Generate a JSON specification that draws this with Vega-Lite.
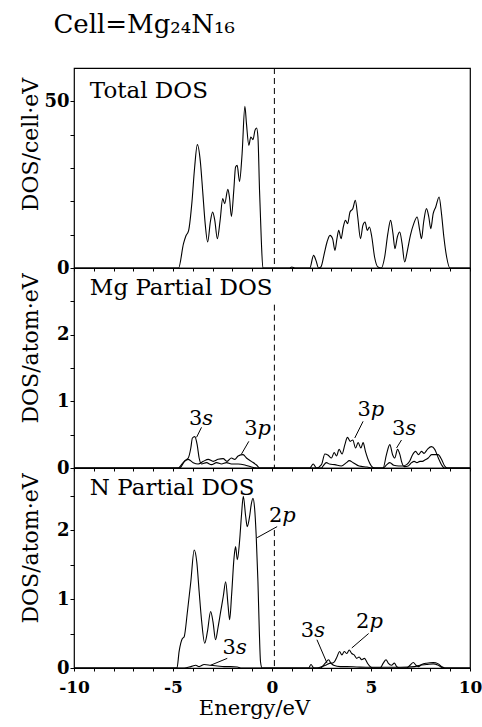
{
  "$schema": "https://vega.github.io/schema/vega-lite/v6.json",
  "background": "white",
  "padding": {"left": 18, "top": 11, "right": 10, "bottom": 2},
  "title": {"text": "Cell=Mg₂₄N₁₆", "anchor": "start", "frame": "bounds", "font": "DejaVu Serif", "fontSize": 26, "fontWeight": "normal", "color": "black", "dx": 35, "offset": 29},
  "spacing": 0,
  "bounds": "flush",
  "config": {
    "view": {"stroke": "black", "strokeWidth": 1.2},
    "axis": {"domain": false, "grid": false, "tickColor": "black", "tickWidth": 1, "labelColor": "black", "titleColor": "black", "labelFont": "DejaVu Serif", "titleFont": "DejaVu Serif", "labelFontWeight": "bold", "labelFontSize": 18, "titleFontSize": 22, "titleFontWeight": "normal", "labelOverlap": false, "labelFlush": false},
    "text": {"font": "DejaVu Serif", "color": "black"}
  },
  "datasets": {
    "total": [
      {"E": -10, "dos": 0}, {"E": -4.72, "dos": 0}, {"E": -4.47, "dos": 7.3}, {"E": -4.35, "dos": 9.6}, {"E": -4.21, "dos": 11.3}, {"E": -4.04, "dos": 20}, {"E": -3.91, "dos": 30}, {"E": -3.77, "dos": 37}, {"E": -3.62, "dos": 32}, {"E": -3.5, "dos": 23}, {"E": -3.37, "dos": 13}, {"E": -3.25, "dos": 7.8}, {"E": -3.11, "dos": 14}, {"E": -3.0, "dos": 16.8}, {"E": -2.89, "dos": 14.3}, {"E": -2.76, "dos": 8.8}, {"E": -2.62, "dos": 14.3}, {"E": -2.49, "dos": 20.8}, {"E": -2.39, "dos": 19.3}, {"E": -2.23, "dos": 23.6}, {"E": -2.15, "dos": 21.3}, {"E": -2.05, "dos": 15.5}, {"E": -1.93, "dos": 23.3}, {"E": -1.84, "dos": 30.3}, {"E": -1.76, "dos": 30.8}, {"E": -1.64, "dos": 26}, {"E": -1.51, "dos": 34.3}, {"E": -1.37, "dos": 48.5}, {"E": -1.29, "dos": 43.3}, {"E": -1.17, "dos": 36.8}, {"E": -1.07, "dos": 39.3}, {"E": -0.96, "dos": 38.5}, {"E": -0.86, "dos": 41.3}, {"E": -0.78, "dos": 42}, {"E": -0.71, "dos": 39.3}, {"E": -0.63, "dos": 23.3}, {"E": -0.54, "dos": 8.3}, {"E": -0.46, "dos": 0},
      {"E": 0.9, "dos": 0}, {"E": 1.0, "dos": 0.3}, {"E": 1.15, "dos": 0}, {"E": 1.91, "dos": 0}, {"E": 2.1, "dos": 3.8}, {"E": 2.22, "dos": 2.3}, {"E": 2.35, "dos": 0}, {"E": 2.47, "dos": 0.3}, {"E": 2.64, "dos": 4.3}, {"E": 2.78, "dos": 7.8}, {"E": 2.93, "dos": 9.8}, {"E": 3.06, "dos": 8.8}, {"E": 3.18, "dos": 5.3}, {"E": 3.28, "dos": 8.8}, {"E": 3.37, "dos": 11.3}, {"E": 3.49, "dos": 8.8}, {"E": 3.6, "dos": 12.3}, {"E": 3.71, "dos": 14.3}, {"E": 3.82, "dos": 13.3}, {"E": 3.94, "dos": 16.8}, {"E": 4.08, "dos": 17.8}, {"E": 4.21, "dos": 20.3}, {"E": 4.33, "dos": 15.3}, {"E": 4.47, "dos": 8.8}, {"E": 4.59, "dos": 12.8}, {"E": 4.7, "dos": 13.8}, {"E": 4.81, "dos": 11.3}, {"E": 4.92, "dos": 12.3}, {"E": 5.04, "dos": 9.3}, {"E": 5.18, "dos": 3.3}, {"E": 5.35, "dos": 0.3}, {"E": 5.52, "dos": 0}, {"E": 5.69, "dos": 3.3}, {"E": 5.85, "dos": 10.3}, {"E": 5.99, "dos": 14.3}, {"E": 6.11, "dos": 10.3}, {"E": 6.21, "dos": 5.8}, {"E": 6.33, "dos": 9.3}, {"E": 6.45, "dos": 10.8}, {"E": 6.57, "dos": 7.3}, {"E": 6.7, "dos": 1.8}, {"E": 6.84, "dos": 5.3}, {"E": 6.99, "dos": 9.8}, {"E": 7.16, "dos": 13.3}, {"E": 7.33, "dos": 15.3}, {"E": 7.46, "dos": 11.3}, {"E": 7.55, "dos": 8.8}, {"E": 7.66, "dos": 13.8}, {"E": 7.8, "dos": 17.8}, {"E": 7.92, "dos": 15.3}, {"E": 8.02, "dos": 11.8}, {"E": 8.14, "dos": 16.3}, {"E": 8.27, "dos": 18.3}, {"E": 8.44, "dos": 21.3}, {"E": 8.56, "dos": 16.3}, {"E": 8.68, "dos": 9.3}, {"E": 8.82, "dos": 3.3}, {"E": 8.99, "dos": 0}, {"E": 10, "dos": 0}
    ],
    "mg": [
      {"orb": "3s", "E": -10, "dos": 0}, {"orb": "3s", "E": -4.66, "dos": 0}, {"orb": "3s", "E": -4.4, "dos": 0.11}, {"orb": "3s", "E": -4.23, "dos": 0.15}, {"orb": "3s", "E": -4.1, "dos": 0.3}, {"orb": "3s", "E": -4.02, "dos": 0.45}, {"orb": "3s", "E": -3.9, "dos": 0.47}, {"orb": "3s", "E": -3.78, "dos": 0.35}, {"orb": "3s", "E": -3.68, "dos": 0.15}, {"orb": "3s", "E": -3.56, "dos": 0.06}, {"orb": "3s", "E": -3.31, "dos": 0.08}, {"orb": "3s", "E": -3.06, "dos": 0.05}, {"orb": "3s", "E": -2.8, "dos": 0.08}, {"orb": "3s", "E": -2.55, "dos": 0.06}, {"orb": "3s", "E": -2.3, "dos": 0.08}, {"orb": "3s", "E": -2.05, "dos": 0.06}, {"orb": "3s", "E": -1.71, "dos": 0.06}, {"orb": "3s", "E": -1.37, "dos": 0.045}, {"orb": "3s", "E": -1.04, "dos": 0.015}, {"orb": "3s", "E": -0.78, "dos": 0},
      {"orb": "3s", "E": 1.9, "dos": 0}, {"orb": "3s", "E": 2.5, "dos": 0}, {"orb": "3s", "E": 2.58, "dos": 0.03}, {"orb": "3s", "E": 2.75, "dos": 0.08}, {"orb": "3s", "E": 2.9, "dos": 0.06}, {"orb": "3s", "E": 3.17, "dos": 0.05}, {"orb": "3s", "E": 3.5, "dos": 0.03}, {"orb": "3s", "E": 3.76, "dos": 0.08}, {"orb": "3s", "E": 3.9, "dos": 0.11}, {"orb": "3s", "E": 4.1, "dos": 0.08}, {"orb": "3s", "E": 4.4, "dos": 0.03}, {"orb": "3s", "E": 4.8, "dos": 0.015}, {"orb": "3s", "E": 5.1, "dos": 0}, {"orb": "3s", "E": 5.61, "dos": 0}, {"orb": "3s", "E": 5.78, "dos": 0.2}, {"orb": "3s", "E": 5.95, "dos": 0.35}, {"orb": "3s", "E": 6.09, "dos": 0.2}, {"orb": "3s", "E": 6.2, "dos": 0.15}, {"orb": "3s", "E": 6.34, "dos": 0.28}, {"orb": "3s", "E": 6.46, "dos": 0.2}, {"orb": "3s", "E": 6.54, "dos": 0.1}, {"orb": "3s", "E": 6.68, "dos": 0.02}, {"orb": "3s", "E": 6.88, "dos": 0.03}, {"orb": "3s", "E": 7.05, "dos": 0.08}, {"orb": "3s", "E": 7.18, "dos": 0.1}, {"orb": "3s", "E": 7.32, "dos": 0.08}, {"orb": "3s", "E": 7.47, "dos": 0.1}, {"orb": "3s", "E": 7.6, "dos": 0.1}, {"orb": "3s", "E": 7.72, "dos": 0.12}, {"orb": "3s", "E": 7.89, "dos": 0.15}, {"orb": "3s", "E": 8.06, "dos": 0.2}, {"orb": "3s", "E": 8.22, "dos": 0.2}, {"orb": "3s", "E": 8.39, "dos": 0.2}, {"orb": "3s", "E": 8.56, "dos": 0.13}, {"orb": "3s", "E": 8.72, "dos": 0.03}, {"orb": "3s", "E": 8.85, "dos": 0}, {"orb": "3s", "E": 10, "dos": 0},
      {"orb": "3p", "E": -10, "dos": 0}, {"orb": "3p", "E": -4.74, "dos": 0}, {"orb": "3p", "E": -4.49, "dos": 0.08}, {"orb": "3p", "E": -4.23, "dos": 0.13}, {"orb": "3p", "E": -3.98, "dos": 0.08}, {"orb": "3p", "E": -3.73, "dos": 0.06}, {"orb": "3p", "E": -3.47, "dos": 0.1}, {"orb": "3p", "E": -3.22, "dos": 0.13}, {"orb": "3p", "E": -2.97, "dos": 0.1}, {"orb": "3p", "E": -2.72, "dos": 0.13}, {"orb": "3p", "E": -2.47, "dos": 0.14}, {"orb": "3p", "E": -2.27, "dos": 0.1}, {"orb": "3p", "E": -2.05, "dos": 0.15}, {"orb": "3p", "E": -1.88, "dos": 0.13}, {"orb": "3p", "E": -1.71, "dos": 0.18}, {"orb": "3p", "E": -1.46, "dos": 0.2}, {"orb": "3p", "E": -1.29, "dos": 0.15}, {"orb": "3p", "E": -1.04, "dos": 0.1}, {"orb": "3p", "E": -0.78, "dos": 0.045}, {"orb": "3p", "E": -0.61, "dos": 0},
      {"orb": "3p", "E": 1.91, "dos": 0}, {"orb": "3p", "E": 2.08, "dos": 0.06}, {"orb": "3p", "E": 2.25, "dos": 0}, {"orb": "3p", "E": 2.5, "dos": 0.05}, {"orb": "3p", "E": 2.67, "dos": 0.21}, {"orb": "3p", "E": 2.84, "dos": 0.19}, {"orb": "3p", "E": 3.0, "dos": 0.15}, {"orb": "3p", "E": 3.14, "dos": 0.23}, {"orb": "3p", "E": 3.26, "dos": 0.18}, {"orb": "3p", "E": 3.39, "dos": 0.28}, {"orb": "3p", "E": 3.54, "dos": 0.21}, {"orb": "3p", "E": 3.68, "dos": 0.35}, {"orb": "3p", "E": 3.81, "dos": 0.46}, {"orb": "3p", "E": 3.95, "dos": 0.4}, {"orb": "3p", "E": 4.08, "dos": 0.42}, {"orb": "3p", "E": 4.22, "dos": 0.3}, {"orb": "3p", "E": 4.35, "dos": 0.38}, {"orb": "3p", "E": 4.49, "dos": 0.3}, {"orb": "3p", "E": 4.6, "dos": 0.38}, {"orb": "3p", "E": 4.72, "dos": 0.25}, {"orb": "3p", "E": 4.89, "dos": 0.1}, {"orb": "3p", "E": 5.06, "dos": 0.015}, {"orb": "3p", "E": 5.19, "dos": 0}, {"orb": "3p", "E": 5.61, "dos": 0}, {"orb": "3p", "E": 5.8, "dos": 0.05}, {"orb": "3p", "E": 5.95, "dos": 0.08}, {"orb": "3p", "E": 6.15, "dos": 0.04}, {"orb": "3p", "E": 6.4, "dos": 0.03}, {"orb": "3p", "E": 6.6, "dos": 0.03}, {"orb": "3p", "E": 6.8, "dos": 0.05}, {"orb": "3p", "E": 6.95, "dos": 0.1}, {"orb": "3p", "E": 7.1, "dos": 0.2}, {"orb": "3p", "E": 7.25, "dos": 0.25}, {"orb": "3p", "E": 7.4, "dos": 0.2}, {"orb": "3p", "E": 7.55, "dos": 0.25}, {"orb": "3p", "E": 7.68, "dos": 0.22}, {"orb": "3p", "E": 7.85, "dos": 0.28}, {"orb": "3p", "E": 8.05, "dos": 0.32}, {"orb": "3p", "E": 8.22, "dos": 0.28}, {"orb": "3p", "E": 8.4, "dos": 0.15}, {"orb": "3p", "E": 8.56, "dos": 0.05}, {"orb": "3p", "E": 8.7, "dos": 0}, {"orb": "3p", "E": 10, "dos": 0}
    ],
    "n": [
      {"orb": "2p", "E": -10, "dos": 0}, {"orb": "2p", "E": -4.8, "dos": 0}, {"orb": "2p", "E": -4.69, "dos": 0.24}, {"orb": "2p", "E": -4.52, "dos": 0.43}, {"orb": "2p", "E": -4.44, "dos": 0.45}, {"orb": "2p", "E": -4.27, "dos": 0.82}, {"orb": "2p", "E": -4.1, "dos": 1.25}, {"orb": "2p", "E": -3.93, "dos": 1.71}, {"orb": "2p", "E": -3.8, "dos": 1.54}, {"orb": "2p", "E": -3.68, "dos": 1.11}, {"orb": "2p", "E": -3.55, "dos": 0.67}, {"orb": "2p", "E": -3.4, "dos": 0.36}, {"orb": "2p", "E": -3.26, "dos": 0.53}, {"orb": "2p", "E": -3.1, "dos": 0.82}, {"orb": "2p", "E": -2.98, "dos": 0.67}, {"orb": "2p", "E": -2.85, "dos": 0.41}, {"orb": "2p", "E": -2.73, "dos": 0.58}, {"orb": "2p", "E": -2.59, "dos": 0.82}, {"orb": "2p", "E": -2.46, "dos": 1.04}, {"orb": "2p", "E": -2.34, "dos": 1.25}, {"orb": "2p", "E": -2.22, "dos": 0.91}, {"orb": "2p", "E": -2.14, "dos": 0.7}, {"orb": "2p", "E": -2.04, "dos": 1.06}, {"orb": "2p", "E": -1.92, "dos": 1.59}, {"orb": "2p", "E": -1.84, "dos": 1.76}, {"orb": "2p", "E": -1.75, "dos": 1.57}, {"orb": "2p", "E": -1.64, "dos": 1.83}, {"orb": "2p", "E": -1.54, "dos": 2.22}, {"orb": "2p", "E": -1.45, "dos": 2.49}, {"orb": "2p", "E": -1.33, "dos": 2.2}, {"orb": "2p", "E": -1.25, "dos": 2.05}, {"orb": "2p", "E": -1.13, "dos": 2.2}, {"orb": "2p", "E": -1.05, "dos": 2.37}, {"orb": "2p", "E": -0.96, "dos": 2.46}, {"orb": "2p", "E": -0.88, "dos": 2.32}, {"orb": "2p", "E": -0.8, "dos": 1.93}, {"orb": "2p", "E": -0.71, "dos": 1.25}, {"orb": "2p", "E": -0.64, "dos": 0.53}, {"orb": "2p", "E": -0.58, "dos": 0.09}, {"orb": "2p", "E": -0.5, "dos": 0},
      {"orb": "2p", "E": 1.85, "dos": 0}, {"orb": "2p", "E": 1.97, "dos": 0.05}, {"orb": "2p", "E": 2.11, "dos": 0}, {"orb": "2p", "E": 2.44, "dos": 0}, {"orb": "2p", "E": 2.69, "dos": 0.07}, {"orb": "2p", "E": 2.86, "dos": 0.12}, {"orb": "2p", "E": 2.99, "dos": 0.07}, {"orb": "2p", "E": 3.15, "dos": 0.09}, {"orb": "2p", "E": 3.28, "dos": 0.16}, {"orb": "2p", "E": 3.41, "dos": 0.24}, {"orb": "2p", "E": 3.53, "dos": 0.19}, {"orb": "2p", "E": 3.65, "dos": 0.24}, {"orb": "2p", "E": 3.78, "dos": 0.21}, {"orb": "2p", "E": 3.9, "dos": 0.26}, {"orb": "2p", "E": 4.03, "dos": 0.21}, {"orb": "2p", "E": 4.15, "dos": 0.19}, {"orb": "2p", "E": 4.28, "dos": 0.14}, {"orb": "2p", "E": 4.4, "dos": 0.16}, {"orb": "2p", "E": 4.53, "dos": 0.12}, {"orb": "2p", "E": 4.67, "dos": 0.14}, {"orb": "2p", "E": 4.82, "dos": 0.07}, {"orb": "2p", "E": 4.96, "dos": 0.02}, {"orb": "2p", "E": 5.12, "dos": 0}, {"orb": "2p", "E": 5.46, "dos": 0}, {"orb": "2p", "E": 5.62, "dos": 0.07}, {"orb": "2p", "E": 5.76, "dos": 0.12}, {"orb": "2p", "E": 5.87, "dos": 0.07}, {"orb": "2p", "E": 6.04, "dos": 0.04}, {"orb": "2p", "E": 6.18, "dos": 0.07}, {"orb": "2p", "E": 6.3, "dos": 0.02}, {"orb": "2p", "E": 6.47, "dos": 0}, {"orb": "2p", "E": 6.8, "dos": 0}, {"orb": "2p", "E": 6.97, "dos": 0.04}, {"orb": "2p", "E": 7.14, "dos": 0.08}, {"orb": "2p", "E": 7.27, "dos": 0.04}, {"orb": "2p", "E": 7.39, "dos": 0.02}, {"orb": "2p", "E": 7.56, "dos": 0.05}, {"orb": "2p", "E": 7.81, "dos": 0.07}, {"orb": "2p", "E": 8.14, "dos": 0.08}, {"orb": "2p", "E": 8.4, "dos": 0.06}, {"orb": "2p", "E": 8.57, "dos": 0.02}, {"orb": "2p", "E": 8.73, "dos": 0}, {"orb": "2p", "E": 10, "dos": 0},
      {"orb": "3s", "E": -10, "dos": 0}, {"orb": "3s", "E": -4.44, "dos": 0}, {"orb": "3s", "E": -4.1, "dos": 0.02}, {"orb": "3s", "E": -3.85, "dos": 0.04}, {"orb": "3s", "E": -3.68, "dos": 0.02}, {"orb": "3s", "E": -3.43, "dos": 0.05}, {"orb": "3s", "E": -3.1, "dos": 0.04}, {"orb": "3s", "E": -2.76, "dos": 0.03}, {"orb": "3s", "E": -2.42, "dos": 0.02}, {"orb": "3s", "E": -2.09, "dos": 0.02}, {"orb": "3s", "E": -1.75, "dos": 0.015}, {"orb": "3s", "E": -1.58, "dos": 0}, {"orb": "3s", "E": 2.27, "dos": 0}, {"orb": "3s", "E": 2.52, "dos": 0.02}, {"orb": "3s", "E": 2.78, "dos": 0.05}, {"orb": "3s", "E": 2.94, "dos": 0.07}, {"orb": "3s", "E": 3.11, "dos": 0.04}, {"orb": "3s", "E": 3.45, "dos": 0.02}, {"orb": "3s", "E": 3.78, "dos": 0.02}, {"orb": "3s", "E": 4.28, "dos": 0.015}, {"orb": "3s", "E": 4.96, "dos": 0.01}, {"orb": "3s", "E": 6.5, "dos": 0.01}, {"orb": "3s", "E": 7.2, "dos": 0.02}, {"orb": "3s", "E": 7.47, "dos": 0.04}, {"orb": "3s", "E": 7.81, "dos": 0.05}, {"orb": "3s", "E": 8.14, "dos": 0.06}, {"orb": "3s", "E": 8.4, "dos": 0.04}, {"orb": "3s", "E": 8.65, "dos": 0}, {"orb": "3s", "E": 10, "dos": 0}
    ],
    "mgNotes": [
      {"num": "3", "orb": "s", "E": -3.52, "dos": 0.73, "E1": -3.56, "y1": 0.61, "E2": -3.81, "y2": 0.46},
      {"num": "3", "orb": "p", "E": -0.73, "dos": 0.58, "E1": -1.17, "y1": 0.4, "E2": -1.54, "y2": 0.21},
      {"num": "3", "orb": "p", "E": 4.99, "dos": 0.87, "E1": 4.6, "y1": 0.7, "E2": 4.18, "y2": 0.45},
      {"num": "3", "orb": "s", "E": 6.74, "dos": 0.58, "E1": 6.54, "y1": 0.42, "E2": 6.29, "y2": 0.3}
    ],
    "nNotes": [
      {"num": "2", "orb": "p", "E": 0.52, "dos": 2.2, "E1": 0.26, "y1": 2.05, "E2": -0.75, "y2": 1.89},
      {"num": "3", "orb": "s", "E": -1.82, "dos": 0.29, "E1": -2.26, "y1": 0.14, "E2": -3.1, "y2": 0.04},
      {"num": "3", "orb": "s", "E": 2.13, "dos": 0.54, "E1": 2.27, "y1": 0.41, "E2": 2.78, "y2": 0.07},
      {"num": "2", "orb": "p", "E": 4.92, "dos": 0.66, "E1": 4.88, "y1": 0.5, "E2": 4.03, "y2": 0.29}
    ]
  },
  "vconcat": [
    {
      "width": 396, "height": 200,
      "layer": [
        {
          "data": {"name": "total"},
          "mark": {"type": "line", "color": "black", "strokeWidth": 1.1, "interpolate": "monotone"},
          "encoding": {
            "x": {"field": "E", "type": "quantitative", "scale": {"domain": [-10, 10], "nice": false}, "axis": {"values": [-10,-9,-8,-7,-6,-5,-4,-3,-2,-1,0,1,2,3,4,5,6,7,8,9,10], "tickCount": 100, "labels": false, "title": null, "tickSize": 3, "labelOverlap": false}},
            "y": {"field": "dos", "type": "quantitative", "scale": {"domain": [0, 60], "nice": false}, "axis": {"values": [0,10,20,30,40,50], "tickCount": 100, "labelExpr": "datum.value == 0 || datum.value == 50 ? '' + datum.value : ''", "labelOverlap": false, "tickSize": 4, "labelPadding": 1, "title": "DOS/cell·eV", "titleX": -32, "titleY": 76}}
          }
        },
        {
          "data": {"values": [{"E": 0.12}]},
          "mark": {"type": "rule", "color": "black", "strokeWidth": 1, "strokeDash": [6, 4]},
          "encoding": {"x": {"field": "E", "type": "quantitative"}}
        },
        {
          "data": {"values": [{"name": "Total DOS", "E": -9.2, "dos": 51}]},
          "mark": {"type": "text", "align": "left", "baseline": "alphabetic", "fontSize": 23, "font": "DejaVu Serif"},
          "encoding": {"x": {"field": "E", "type": "quantitative"}, "y": {"field": "dos", "type": "quantitative"}, "text": {"field": "name"}}
        }
      ]
    },
    {
      "width": 396, "height": 200,
      "layer": [
        {
          "data": {"name": "mg"},
          "mark": {"type": "line", "color": "black", "strokeWidth": 1.1, "interpolate": "monotone"},
          "encoding": {
            "x": {"field": "E", "type": "quantitative", "scale": {"domain": [-10, 10], "nice": false}, "axis": {"values": [-10,-9,-8,-7,-6,-5,-4,-3,-2,-1,0,1,2,3,4,5,6,7,8,9,10], "tickCount": 100, "labels": false, "title": null, "tickSize": 3, "labelOverlap": false}},
            "y": {"field": "dos", "type": "quantitative", "scale": {"domain": [0, 3], "nice": false}, "axis": {"values": [0,0.5,1,1.5,2,2.5], "tickCount": 100, "labelExpr": "datum.value % 1 == 0 ? '' + datum.value : ''", "labelOverlap": false, "tickSize": 4, "labelPadding": 1, "title": "DOS/atom·eV", "titleX": -32, "titleY": 80}},
            "detail": {"field": "orb"}
          }
        },
        {
          "data": {"values": [{"E": 0.12, "top": 2.45, "bot": 0}]},
          "mark": {"type": "rule", "color": "black", "strokeWidth": 1, "strokeDash": [6, 4]},
          "encoding": {"x": {"field": "E", "type": "quantitative"}, "y": {"field": "top", "type": "quantitative"}, "y2": {"field": "bot"}}
        },
        {
          "data": {"values": [{"name": "Mg Partial DOS", "E": -9.2, "dos": 2.59}]},
          "mark": {"type": "text", "align": "left", "baseline": "alphabetic", "fontSize": 23, "font": "DejaVu Serif"},
          "encoding": {"x": {"field": "E", "type": "quantitative"}, "y": {"field": "dos", "type": "quantitative"}, "text": {"field": "name"}}
        },
        {
          "data": {"name": "mgNotes"},
          "mark": {"type": "rule", "color": "black", "strokeWidth": 1},
          "encoding": {"x": {"field": "E1", "type": "quantitative"}, "y": {"field": "y1", "type": "quantitative"}, "x2": {"field": "E2"}, "y2": {"field": "y2"}}
        },
        {
          "data": {"name": "mgNotes"},
          "mark": {"type": "text", "align": "right", "baseline": "middle", "fontSize": 21, "font": "DejaVu Serif"},
          "encoding": {"x": {"field": "E", "type": "quantitative"}, "y": {"field": "dos", "type": "quantitative"}, "text": {"field": "num"}}
        },
        {
          "data": {"name": "mgNotes"},
          "mark": {"type": "text", "align": "left", "baseline": "middle", "fontSize": 21, "font": "DejaVu Serif", "fontStyle": "italic"},
          "encoding": {"x": {"field": "E", "type": "quantitative"}, "y": {"field": "dos", "type": "quantitative"}, "text": {"field": "orb"}}
        }
      ]
    },
    {
      "width": 396, "height": 200,
      "layer": [
        {
          "data": {"name": "n"},
          "mark": {"type": "line", "color": "black", "strokeWidth": 1.1, "interpolate": "monotone"},
          "encoding": {
            "x": {"field": "E", "type": "quantitative", "scale": {"domain": [-10, 10], "nice": false}, "axis": {"values": [-10,-9,-8,-7,-6,-5,-4,-3,-2,-1,0,1,2,3,4,5,6,7,8,9,10], "tickCount": 100, "labelExpr": "datum.value % 5 == 0 ? '' + datum.value : ''", "labelOverlap": false, "labelFlush": false, "tickSize": 3, "labelPadding": 8, "labelFontSize": 17, "title": "Energy/eV", "titleFontSize": 21, "titleX": 180, "titleY": 29, "titleBaseline": "top"}},
            "y": {"field": "dos", "type": "quantitative", "scale": {"domain": [0, 2.9], "nice": false}, "axis": {"values": [0,0.5,1,1.5,2,2.5], "tickCount": 100, "labelExpr": "datum.value % 1 == 0 ? '' + datum.value : ''", "labelOverlap": false, "tickSize": 4, "labelPadding": 1, "title": "DOS/atom·eV", "titleX": -32, "titleY": 80}},
            "detail": {"field": "orb"}
          }
        },
        {
          "data": {"values": [{"E": 0.12, "top": 2.0, "bot": 0}]},
          "mark": {"type": "rule", "color": "black", "strokeWidth": 1, "strokeDash": [6, 4]},
          "encoding": {"x": {"field": "E", "type": "quantitative"}, "y": {"field": "top", "type": "quantitative"}, "y2": {"field": "bot"}}
        },
        {
          "data": {"values": [{"name": "N Partial DOS", "E": -9.2, "dos": 2.51}]},
          "mark": {"type": "text", "align": "left", "baseline": "alphabetic", "fontSize": 23, "font": "DejaVu Serif"},
          "encoding": {"x": {"field": "E", "type": "quantitative"}, "y": {"field": "dos", "type": "quantitative"}, "text": {"field": "name"}}
        },
        {
          "data": {"name": "nNotes"},
          "mark": {"type": "rule", "color": "black", "strokeWidth": 1},
          "encoding": {"x": {"field": "E1", "type": "quantitative"}, "y": {"field": "y1", "type": "quantitative"}, "x2": {"field": "E2"}, "y2": {"field": "y2"}}
        },
        {
          "data": {"name": "nNotes"},
          "mark": {"type": "text", "align": "right", "baseline": "middle", "fontSize": 21, "font": "DejaVu Serif"},
          "encoding": {"x": {"field": "E", "type": "quantitative"}, "y": {"field": "dos", "type": "quantitative"}, "text": {"field": "num"}}
        },
        {
          "data": {"name": "nNotes"},
          "mark": {"type": "text", "align": "left", "baseline": "middle", "fontSize": 21, "font": "DejaVu Serif", "fontStyle": "italic"},
          "encoding": {"x": {"field": "E", "type": "quantitative"}, "y": {"field": "dos", "type": "quantitative"}, "text": {"field": "orb"}}
        }
      ]
    }
  ]
}
